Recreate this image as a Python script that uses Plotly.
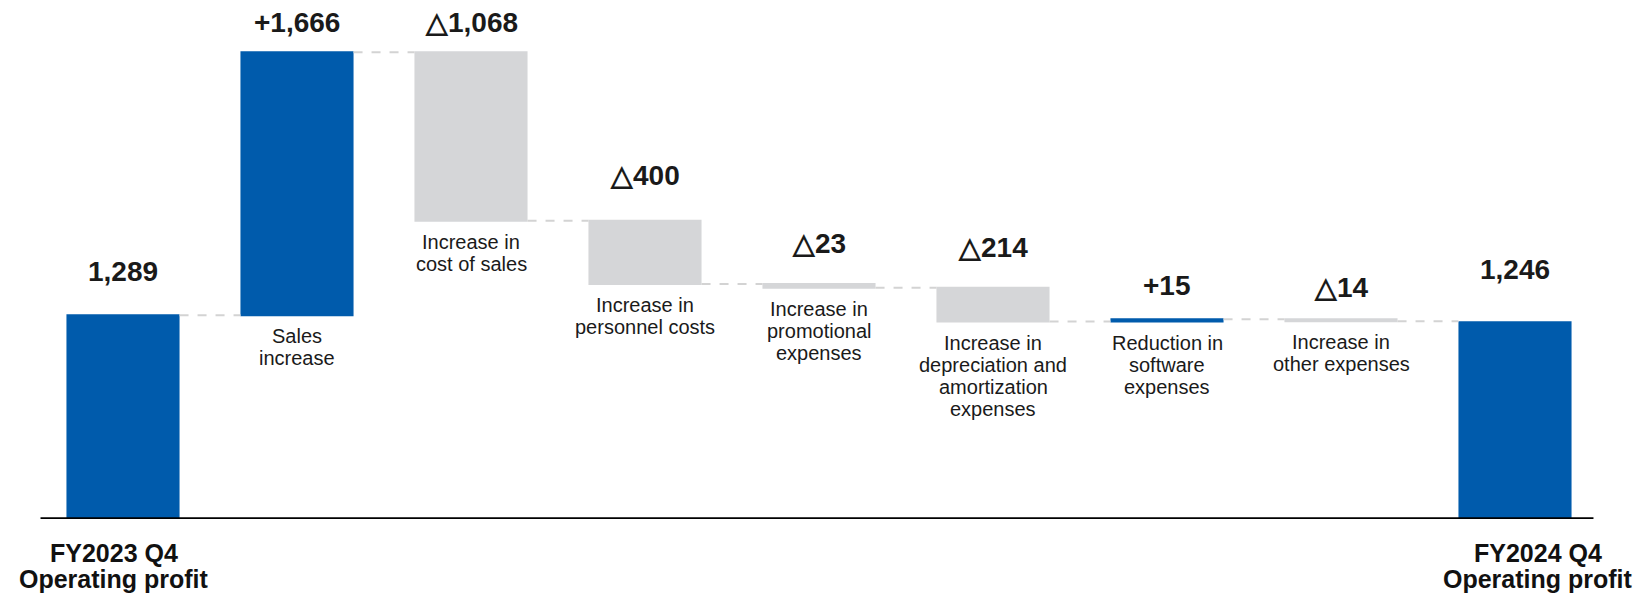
import plotly.graph_objects as go

# ---- data ----
categories = ["FY2023 Q4 Operating profit", "Sales increase", "Increase in cost of sales",
              "Increase in personnel costs", "Increase in promotional expenses",
              "Increase in depreciation and amortization expenses",
              "Reduction in software expenses", "Increase in other expenses",
              "FY2024 Q4 Operating profit"]
values = [1289, 1666, -1068, -400, -23, -214, 15, -14, 1246]
measures = ["absolute", "relative", "relative", "relative", "relative",
            "relative", "relative", "relative", "absolute"]
value_labels = ["1,289", "+1,666", "△1,068", "△400", "△23", "△214", "+15", "△14", "1,246"]
bar_labels = ["", "Sales<br>increase", "Increase in<br>cost of sales",
              "Increase in<br>personnel costs", "Increase in<br>promotional<br>expenses",
              "Increase in<br>depreciation and<br>amortization<br>expenses",
              "Reduction in<br>software<br>expenses", "Increase in<br>other expenses", ""]
axis_labels = ["FY2023 Q4<br>Operating profit", "FY2024 Q4<br>Operating profit"]

# ---- style ----
BLUE = "#005BAC"
GRAY = "#D5D6D8"
FONT = "Liberation Sans, Arial, sans-serif"
value_gap = [44, 30, 30, 45, 41, 40, 34, 32, 53]   # px above bar top
label_gap = 21                                       # px below bar bottom
line_h = 22

# compute bar extents
tops, bottoms = [], []
level = 0
for v, m in zip(values, measures):
    if m == "absolute":
        start, end = 0, v
    else:
        start, end = level, level + v
    level = end
    tops.append(max(start, end))
    bottoms.append(min(start, end))

x = list(range(len(categories)))

fig = go.Figure(go.Waterfall(
    x=x, y=values, measure=measures,
    width=0.65,
    increasing=dict(marker=dict(color=BLUE, line=dict(width=0))),
    decreasing=dict(marker=dict(color=GRAY, line=dict(width=0))),
    totals=dict(marker=dict(color=BLUE, line=dict(width=0))),
    connector=dict(mode="between", line=dict(color="#D3D3D3", width=2, dash="dash")),
    hoverinfo="skip",
))

ann = []
for i in x:
    ann.append(dict(x=i, y=tops[i], xref="x", yref="y", text="<b>" + value_labels[i] + "</b>",
                    showarrow=False, yanchor="middle", yshift=value_gap[i],
                    font=dict(family=FONT, size=28, color="#1A1A1A")))
    if bar_labels[i]:
        for j, line in enumerate(bar_labels[i].split("<br>")):
            ann.append(dict(x=i, y=bottoms[i], xref="x", yref="y", text=line,
                            showarrow=False, yanchor="middle",
                            yshift=-(label_gap + j * line_h),
                            font=dict(family=FONT, size=20, color="#1A1A1A")))

for k, (xi, xs) in enumerate([(0, -9), (len(x) - 1, 23)]):
    for j, line in enumerate(axis_labels[k].split("<br>")):
        ann.append(dict(x=xi, y=0, xref="x", yref="y", text="<b>" + line + "</b>",
                        showarrow=False, yanchor="middle", xshift=xs,
                        yshift=-(34 + j * 26),
                        font=dict(family=FONT, size=25, color="#111111")))

fig.update_layout(
    width=1640, height=595,
    margin=dict(l=36, r=38, t=0, b=76),
    paper_bgcolor="white", plot_bgcolor="white",
    showlegend=False,
    xaxis=dict(range=[-0.5, 8.5], showgrid=False, zeroline=False,
               showticklabels=False, ticks="", fixedrange=True),
    yaxis=dict(range=[0, 3285], showgrid=False, zeroline=False,
               showticklabels=False, ticks="", fixedrange=True),
    annotations=ann,
    shapes=[dict(type="line", xref="x", yref="y", x0=-0.474, x1=8.451, y0=0, y1=0,
                 line=dict(color="black", width=3.5))],
)

fig.write_html("out.html")
